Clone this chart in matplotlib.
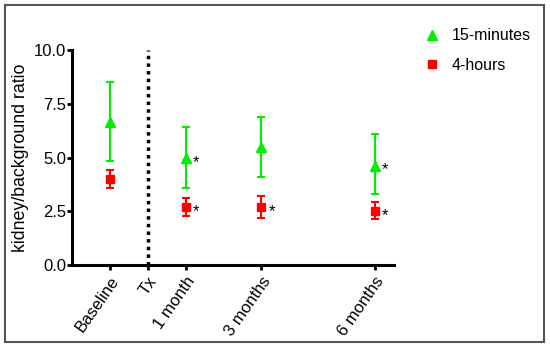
import matplotlib

matplotlib.use('Agg')
import matplotlib.pyplot as plt
from matplotlib.lines import Line2D
from matplotlib.patches import Rectangle

plt.rcParams['font.family'] = ['Liberation Sans', 'DejaVu Sans']

# time in months relative to transplant (Tx = 0)
tick_pos = [-1, 0, 1, 3, 6]
tick_labels = ['Baseline', 'Tx', '1 month', '3 months', '6 months']

times = [-1, 1, 3, 6]
min15_mean = [6.65, 4.98, 5.49, 4.62]
min15_lo = [4.85, 3.58, 4.10, 3.30]
min15_hi = [8.50, 6.42, 6.90, 6.09]

hr4_mean = [4.00, 2.70, 2.70, 2.51]
hr4_lo = [3.60, 2.30, 2.20, 2.14]
hr4_hi = [4.40, 3.10, 3.20, 2.93]

# which points get a significance star
star_15 = [False, True, False, True]
star_4 = [False, True, True, True]

green = '#00ee00'
red = '#ff0000'

fig = plt.figure(figsize=(5.5, 3.48), dpi=100)
ax = fig.add_axes([0.131, 0.2385, 0.585, 0.6175])

err15 = [[m - l for m, l in zip(min15_mean, min15_lo)],
         [h - m for m, h in zip(min15_mean, min15_hi)]]
err4 = [[m - l for m, l in zip(hr4_mean, hr4_lo)],
        [h - m for m, h in zip(hr4_mean, hr4_hi)]]

ax.errorbar(times, min15_mean, yerr=err15, fmt='^', color=green, ms=6.5,
            capsize=3, elinewidth=1.5, capthick=1.5)
ax.errorbar(times, hr4_mean, yerr=err4, fmt='s', color=red, ms=6,
            capsize=3, elinewidth=1.5, capthick=1.5)

for t, m, s in zip(times, min15_mean, star_15):
    if s:
        ax.annotate('*', (t, m), xytext=(5, -3), textcoords='offset points',
                    fontsize=12, ha='left', va='center')
for t, m, s in zip(times, hr4_mean, star_4):
    if s:
        ax.annotate('*', (t, m), xytext=(5, -3), textcoords='offset points',
                    fontsize=12, ha='left', va='center')

ax.plot([0, 0], [0, 10], color='black', lw=2.5, ls=(0, (1, 1.2)),
        clip_on=False, zorder=1)

ax.set_xlim(-2, 6.5)
ax.set_ylim(0, 10)
ax.set_yticks([0, 2.5, 5.0, 7.5, 10.0])
ax.set_yticklabels(['0.0', '2.5', '5.0', '7.5', '10.0'])
ax.set_xticks(tick_pos)
ax.set_xticklabels(tick_labels, rotation=55, ha='right',
                   rotation_mode='anchor')
ax.set_ylabel('kidney/background ratio', fontsize=12.8, labelpad=4)

for side in ['top', 'right']:
    ax.spines[side].set_visible(False)
for side in ['left', 'bottom']:
    ax.spines[side].set_linewidth(2.2)
ax.tick_params(width=2, length=3.5, labelsize=12, direction='out')
ax.tick_params(axis='y', pad=0.5)
ax.tick_params(axis='x', pad=3)

handles = [Line2D([], [], marker='^', color=green, ls='none', ms=6.5),
           Line2D([], [], marker='s', color=red, ls='none', ms=6)]
fig.legend(handles, ['15-minutes', '4-hours'], loc='upper left',
           bbox_to_anchor=(0.745, 0.96), frameon=False, fontsize=11.5,
           handlelength=1, handletextpad=0.7, labelspacing=0.9)

fig.patches.append(Rectangle((0.009, 0.017), 0.98, 0.969,
                             transform=fig.transFigure, fill=False,
                             edgecolor='#555555', lw=1.5))

plt.savefig('out.png')
